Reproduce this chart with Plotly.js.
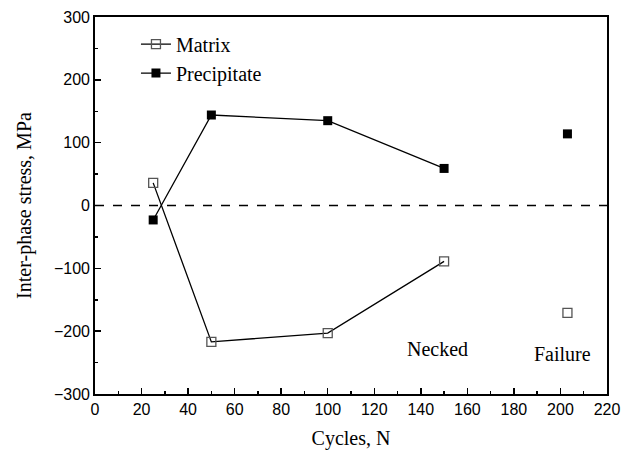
<!DOCTYPE html>
<html>
<head>
<meta charset="utf-8">
<script src="https://cdn.plot.ly/plotly-3.0.1.min.js"></script>
<style>html,body{margin:0;padding:0;background:#fff}#chart{width:633px;height:454px}</style>
</head>
<body>
<div id="chart"></div>
<script>
// Data
var cyclesConnected = [25, 50, 100, 150];
var matrixConnected = [36, -217, -203, -89];
var precipConnected = [-23, 144, 135, 59];
var cyclesFailure = [203];
var matrixFailure = [-171];
var precipFailure = [114];
var stageLabels = ["Necked", "Failure"];
var stageX = [147, 201];
var stageY = [-228, -236];

var serif = "Liberation Serif, Times New Roman, serif";
var sans = "Liberation Sans, Arial, sans-serif";

var traces = [
  {x: cyclesConnected, y: matrixConnected, name: "Matrix", mode: "lines+markers",
   line: {color: "#000", width: 1.3},
   marker: {symbol: "square-open", size: 9, color: "#555", line: {width: 1.3, color: "#555"}}},
  {x: cyclesConnected, y: precipConnected, name: "Precipitate", mode: "lines+markers",
   line: {color: "#000", width: 1.3},
   marker: {symbol: "square", size: 9, color: "#000"}},
  {x: cyclesFailure, y: matrixFailure, name: "Matrix", mode: "markers", showlegend: false,
   marker: {symbol: "square-open", size: 9, color: "#555", line: {width: 1.3, color: "#555"}}},
  {x: cyclesFailure, y: precipFailure, name: "Precipitate", mode: "markers", showlegend: false,
   marker: {symbol: "square", size: 9, color: "#000"}}
];

var annotations = stageLabels.map(function(t, i) {
  return {x: stageX[i], y: stageY[i], xref: "x", yref: "y", text: t, showarrow: false,
          font: {family: serif, size: 20, color: "#000"}};
});

var layout = {
  width: 633, height: 454,
  margin: {l: 95, r: 26, t: 17, b: 60},
  paper_bgcolor: "#fff", plot_bgcolor: "#fff",
  showlegend: true,
  legend: {x: 0.08, y: 0.98, xanchor: "left", yanchor: "top", bgcolor: "rgba(0,0,0,0)",
           font: {family: serif, size: 20, color: "#000"}, tracegroupgap: 0},
  xaxis: {range: [0, 220], dtick: 20, tick0: 0, ticks: "inside", ticklen: 6, tickwidth: 1.5,
          tickcolor: "#000", showline: true, linecolor: "#000", linewidth: 1.8, mirror: true,
          showgrid: false, zeroline: false,
          minor: {dtick: 10, ticks: "inside", ticklen: 3, tickwidth: 1.5, tickcolor: "#000", showgrid: false},
          tickfont: {family: sans, size: 16, color: "#000"},
          title: {text: "Cycles, N", font: {family: serif, size: 20, color: "#000"}, standoff: 14}},
  yaxis: {range: [-300, 300], dtick: 100, tick0: 0, ticks: "inside", ticklen: 6, tickwidth: 1.5,
          tickcolor: "#000", showline: true, linecolor: "#000", linewidth: 1.8, mirror: true,
          showgrid: false, zeroline: false,
          minor: {dtick: 50, ticks: "inside", ticklen: 3, tickwidth: 1.5, tickcolor: "#000", showgrid: false},
          tickfont: {family: sans, size: 16, color: "#000"},
          title: {text: "Inter-phase stress, MPa", font: {family: serif, size: 20, color: "#000"}, standoff: 17}},
  shapes: [{type: "line", xref: "paper", x0: 0, x1: 1, yref: "y", y0: 0, y1: 0,
            line: {color: "#000", width: 1.6, dash: "dash"}}],
  annotations: annotations
};

Plotly.newPlot("chart", traces, layout, {displayModeBar: false, staticPlot: true});
</script>
</body>
</html>
